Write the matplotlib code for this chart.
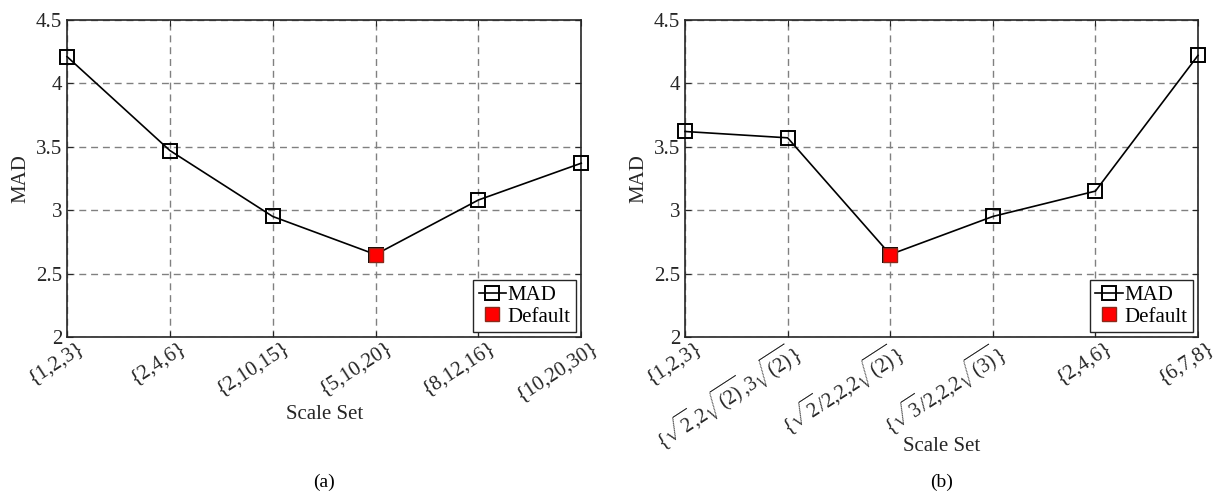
import matplotlib
matplotlib.use("Agg")
import matplotlib.pyplot as plt
import matplotlib.transforms as mtransforms
import numpy as np

plt.rcParams['font.family'] = ['Liberation Serif', 'DejaVu Serif']
plt.rcParams['mathtext.fontset'] = 'custom'
plt.rcParams['mathtext.rm'] = 'Liberation Serif'
plt.rcParams['mathtext.it'] = 'Liberation Serif:italic'
plt.rcParams['mathtext.bf'] = 'Liberation Serif:bold'

# data
labels_a = ['{1,2,3}', '{2,4,6}', '{2,10,15}', '{5,10,20}', '{8,12,16}', '{10,20,30}']
mad_a = [4.21, 3.47, 2.95, 2.65, 3.08, 3.37]
default_a = 3

labels_b = ['{1,2,3}',
            r'$\{\sqrt{2}{,}2\sqrt{(2)}{,}3\sqrt{(2)}\}$',
            r'$\{\sqrt{2}/2{,}2{,}2\sqrt{(2)}\}$',
            r'$\{\sqrt{3}/2{,}2{,}2\sqrt{(3)}\}$',
            '{2,4,6}', '{6,7,8}']
mad_b = [3.62, 3.57, 2.65, 2.95, 3.15, 4.22]
default_b = 2

yticks = [2, 2.5, 3, 3.5, 4, 4.5]
ytick_labels = ['2', '2.5', '3', '3.5', '4', '4.5']

fs = 15
dark = '#262626'

fig = plt.figure(figsize=(12.17, 4.97), dpi=100)
ax1 = fig.add_axes((0.0551, 0.322, 0.4225, 0.638))
ax2 = fig.add_axes((0.5629, 0.322, 0.4215, 0.638))


def draw(ax, labels, vals, d_idx, tag, xlab_y):
    x = np.arange(len(vals))
    ax.plot(x, vals, color='black', lw=1.2, marker='s', markersize=9.5,
            markerfacecolor='none', markeredgecolor='black', markeredgewidth=1.4,
            label='MAD', zorder=3, clip_on=False)
    ax.plot(x[d_idx], vals[d_idx], linestyle='none', marker='s', markersize=10.5,
            markerfacecolor='#ff0000', markeredgecolor='#8b2a1a', markeredgewidth=1.0,
            label='Default', zorder=4, clip_on=False)
    ax.set_xlim(0, len(vals) - 1)
    ax.set_ylim(2, 4.5)
    ax.set_yticks(yticks)
    ax.set_yticklabels(ytick_labels)
    ax.set_xticks(x)
    ax.set_xticklabels(labels, rotation=33, ha='right', va='top',
                       rotation_mode='anchor')
    ax.tick_params(direction='in', top=True, right=True, labelsize=fs,
                   colors=dark, length=4, width=0.8)
    offset = mtransforms.ScaledTranslation(9 / 100, 4 / 100, fig.dpi_scale_trans)
    offset_math = mtransforms.ScaledTranslation(2 / 100, 4 / 100, fig.dpi_scale_trans)
    for lab in ax.get_xticklabels():
        if lab.get_text().startswith('$'):
            lab.set_fontsize(14.5)
            lab.set_transform(lab.get_transform() + offset_math)
        else:
            lab.set_transform(lab.get_transform() + offset)
    ax.grid(True, linestyle=(0, (5, 3.5)), color='#808080', lw=1.0)
    ax.set_axisbelow(True)
    for sp in ax.spines.values():
        sp.set_color(dark)
        sp.set_linewidth(1.2)
    ax.set_ylabel('MAD', fontsize=fs, color=dark)
    ax.set_xlabel('Scale Set', fontsize=fs, color=dark, va='center')
    ax.xaxis.set_label_coords(0.5, xlab_y)
    leg = ax.legend(loc='lower right', fontsize=fs, handlelength=1.3,
                    handletextpad=0.1, borderpad=0.25, labelspacing=0.1,
                    fancybox=False, framealpha=1, edgecolor=dark,
                    borderaxespad=0.25, markerscale=1.0)
    leg.get_frame().set_linewidth(1.0)
    pos = ax.get_position()
    fig.text(pos.x0 + pos.width / 2, 0.03, tag, ha='center', va='center',
             fontsize=fs - 1)


draw(ax1, labels_a, mad_a, default_a, '(a)', -0.246)
draw(ax2, labels_b, mad_b, default_b, '(b)', -0.345)

fig.savefig('out.png', dpi=100)
